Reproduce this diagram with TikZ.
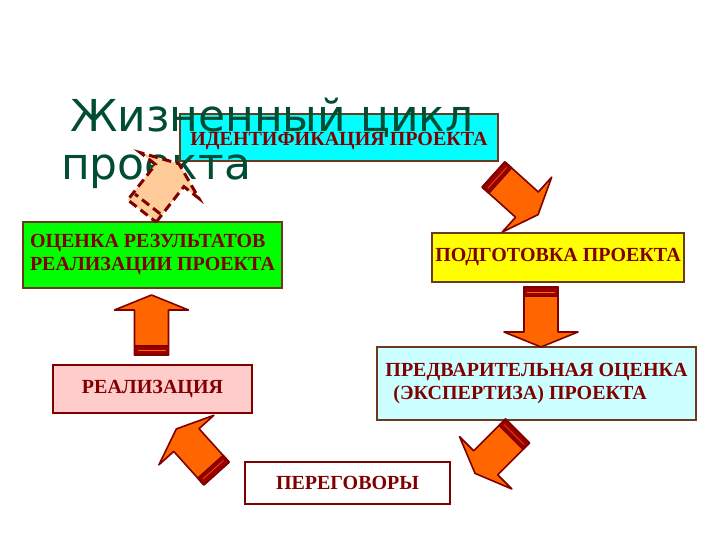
\documentclass[tikz,border=0pt]{standalone}
\usepackage{fontspec}
\setmainfont{Liberation Serif}
\newfontfamily\titlefont{DejaVu Sans}
\usetikzlibrary{positioning}
\definecolor{LCInk}{HTML}{800000}
\definecolor{LCBrown}{HTML}{6B3A1E}
\definecolor{LCTitle}{HTML}{004D33}
\definecolor{LCCyan}{HTML}{00FFFF}
\definecolor{LCYellow}{HTML}{FFFF00}
\definecolor{LCIce}{HTML}{CCFFFF}
\definecolor{LCGreen}{HTML}{00FF00}
\definecolor{LCPink}{HTML}{FFCCCC}
\definecolor{LCOrange}{HTML}{FF6600}
\definecolor{LCBand}{HTML}{990000}
\definecolor{LCPeach}{HTML}{FFCC99}
\tikzset{
  stage/.style={draw=LCBrown,line width=1.8bp,text=LCInk,align=center,inner sep=0pt,
                font=\fontsize{20bp}{23bp}\selectfont\bfseries},
  stagered/.style={stage,draw=LCInk},
  title/.style={text=LCTitle,inner sep=0pt,font=\titlefont\fontsize{44bp}{48bp}\selectfont},
  arrowbody/.style={fill=LCOrange,draw=LCInk,line width=1.6bp,line join=round},
  arrowend/.style={fill=LCBand,draw=LCInk,line width=1.6bp,line join=round},
  ghostbody/.style={fill=LCPeach,draw=LCInk,line width=3bp,dash pattern=on 9bp off 5bp},
  cyclearrow/.pic={
    \filldraw[arrowbody] (0,-17) -- (45,-17) -- (45,-37) -- (60,0) -- (45,37) -- (45,17) -- (0,17) -- cycle;
    \filldraw[arrowend] (0,-17) rectangle (9,17);
    \draw[LCOrange,line width=.6bp] (5,-14) -- (5,14);
  },
  ghostarrow/.pic={
    \filldraw[ghostbody] (0,-18) -- (45,-18) -- (45,-37) -- (60,0) -- (45,37) -- (45,18) -- (0,18) -- cycle;
    \draw[ghostbody] (9,-16) -- (9,16);
  },
}

\begin{document}
\begin{tikzpicture}[x=1bp,y=1bp]
  \useasboundingbox (0,0) rectangle (720,540);
  \fill[white] (0,0) rectangle (720,540);

  \node[stage,fill=LCCyan,minimum width=318bp,minimum height=47bp,text height=19bp,text depth=2bp] (ident) at (339,402.5)
    {ИДЕНТИФИКАЦИЯ ПРОЕКТА};
  \node[stage,fill=LCYellow,minimum width=252bp,minimum height=49bp] (prep) at (558,282.5) {ПОДГОТОВКА ПРОЕКТА};
  \node[stage,fill=LCIce,minimum width=319bp,minimum height=73bp,align=left] (expert) at (536.5,156.5)
    {ПРЕДВАРИТЕЛЬНАЯ ОЦЕНКА\\\hspace*{8bp}(ЭКСПЕРТИЗА) ПРОЕКТА};
  \node[stagered,fill=white,minimum width=205bp,minimum height=42bp] (talks) at (347.5,57) {ПЕРЕГОВОРЫ};
  \node[stagered,fill=LCPink,minimum width=199bp,minimum height=48bp] (impl) at (152.5,151) {РЕАЛИЗАЦИЯ};
  \node[stage,fill=LCGreen,minimum width=259bp,minimum height=66bp,align=left] (review) at (152.5,285)
    {ОЦЕНКА РЕЗУЛЬТАТОВ\\РЕАЛИЗАЦИИ ПРОЕКТА};

  \node[title,anchor=base west] (title) at (70,408) {Жизненный цикл};
  \node[title,anchor=base west] (titlecont) at (61,360) {проекта};

  \coordinate (a1) at (493.5,365.5);
  \coordinate (a2) at (541,253);
  \coordinate (a3) at (517.5,109);
  \coordinate (a4) at (216.5,66.5);
  \coordinate (a5) at (151.5,185);
  \coordinate (a6) at (142,329);
  \pic[rotate=-42] at (a1) {cyclearrow};
  \pic[rotate=-90] at (a2) {cyclearrow};
  \pic[rotate=-135] at (a3) {cyclearrow};
  \pic[rotate=132] at (a4) {cyclearrow};
  \pic[rotate=90] at (a5) {cyclearrow};
  \pic[rotate=52] at (a6) {ghostarrow};
\end{tikzpicture}
\end{document}
